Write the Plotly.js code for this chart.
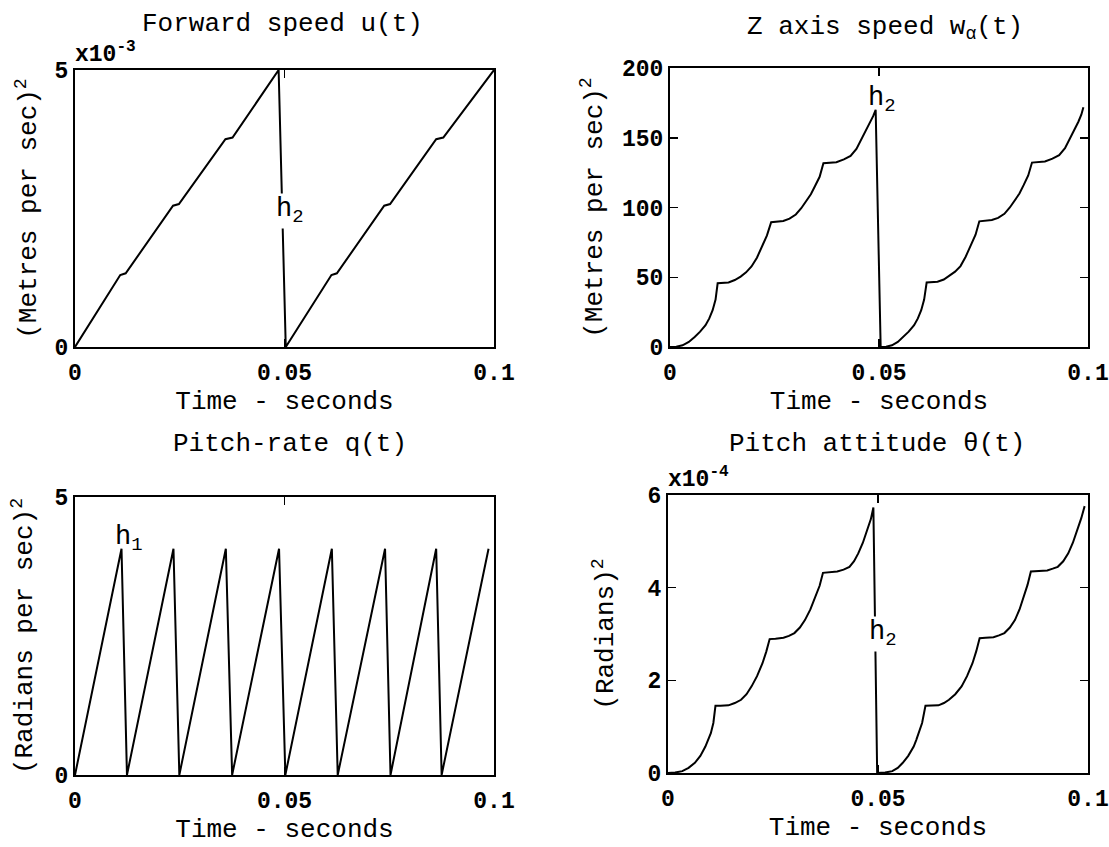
<!DOCTYPE html>
<html>
<head>
<meta charset="utf-8">
<script src="https://cdn.plot.ly/plotly-3.0.1.min.js"></script>
<style>
  html, body { margin: 0; padding: 0; background: #ffffff; }
  #chart { width: 1109px; height: 847px; }
</style>
</head>
<body>
<div id="chart"></div>
<script>
// ---- Data ----
const timeTicks = [0, 0.05, 0.1];
const timeTickText = ["0", "0.05", "0.1"];

// Forward speed u(t), units x10^-3 (Metres per sec)^2
const uTime = [0, 0.0108, 0.0121, 0.0234, 0.0248, 0.0359, 0.0376, 0.0486, 0.0503, 0.0612, 0.0625, 0.0738, 0.0752, 0.0862, 0.0879, 0.1];
const uValue = [0, 1.30, 1.33, 2.55, 2.58, 3.75, 3.78, 5.0, 0, 1.30, 1.33, 2.55, 2.58, 3.75, 3.78, 5.0];

// Z axis speed w_alpha(t), (Metres per sec)^2
const wTime = [0, 0.0015, 0.0030, 0.0045, 0.0059, 0.0072, 0.0085, 0.0094, 0.0102, 0.0109, 0.0114,
               0.0125, 0.0140, 0.0155, 0.0169, 0.0182, 0.0195, 0.0208, 0.0220, 0.0232, 0.0242,
               0.0255, 0.0271, 0.0286, 0.0301, 0.0314, 0.0326, 0.0337, 0.0347, 0.0358, 0.0367,
               0.0380, 0.0398, 0.0416, 0.0432, 0.0446, 0.0458, 0.0469, 0.0479, 0.0486, 0.0492,
               0.0504, 0.0517, 0.0531, 0.0545, 0.0558, 0.0571, 0.0584, 0.0593, 0.0601, 0.0608, 0.0614,
               0.0625, 0.0640, 0.0655, 0.0669, 0.0682, 0.0695, 0.0707, 0.0719, 0.0731, 0.0740,
               0.0754, 0.0770, 0.0785, 0.0800, 0.0813, 0.0825, 0.0836, 0.0846, 0.0857, 0.0866,
               0.0879, 0.0897, 0.0915, 0.0931, 0.0945, 0.0957, 0.0968, 0.0977, 0.0984, 0.0989];
const wValue = [0, 0.2, 1.2, 3.6, 7.2, 11, 15.6, 20.5, 26.4, 34, 45.7,
                46, 46.3, 48, 50.5, 53.5, 57.7, 64, 72.1, 80, 89.4,
                89.8, 90.3, 92, 95, 99.5, 104.6, 109.5, 115.4, 122, 131.7,
                132, 132.5, 134.5, 137, 142, 149, 155, 161, 165.5, 170,
                0, 0.2, 1.2, 3.6, 7.2, 11, 15.6, 20.5, 26.4, 34, 46.2,
                46.4, 46.8, 48.4, 51, 54, 58, 64.5, 72.5, 80.5, 90.1,
                90.4, 91, 92.6, 95.5, 100, 105, 110, 116, 123, 132.2,
                132.4, 133, 135, 137.5, 142.5, 149.5, 155.5, 161.5, 166.5, 171.9];

// Pitch-rate q(t), (Radians per sec)^2
const qTime = [0, 0.0111, 0.0124, 0.0235, 0.0249, 0.0360, 0.0375, 0.0487, 0.0502, 0.0613, 0.0627, 0.0740, 0.0753, 0.0862, 0.0875, 0.0987];
const qValue = [0, 4.07, 0, 4.07, 0, 4.07, 0, 4.07, 0, 4.07, 0, 4.07, 0, 4.07, 0, 4.07];

// Pitch attitude theta(t), units x10^-4 (Radians)^2
const thTime = [0, 0.0017, 0.0034, 0.0049, 0.0064, 0.0077, 0.0089, 0.0096, 0.0102, 0.0108, 0.0113,
                0.0125, 0.0144, 0.0159, 0.0174, 0.0187, 0.0199, 0.0212, 0.0225, 0.0234, 0.0242,
                0.0256, 0.0275, 0.0288, 0.0301, 0.0314, 0.0326, 0.0339, 0.0352, 0.0361, 0.0369,
                0.0384, 0.0403, 0.0418, 0.0432, 0.0443, 0.0453, 0.0464, 0.0475, 0.0483, 0.0489,
                0.0498, 0.0517, 0.0534, 0.0547, 0.0559, 0.0572, 0.0585, 0.0591, 0.0597, 0.0605, 0.0613,
                0.0626, 0.0644, 0.0657, 0.0669, 0.0684, 0.0699, 0.0712, 0.0725, 0.0734, 0.0742,
                0.0756, 0.0775, 0.0788, 0.0801, 0.0814, 0.0826, 0.0837, 0.0847, 0.0856, 0.0864,
                0.0882, 0.0903, 0.0916, 0.0928, 0.0941, 0.0953, 0.0964, 0.0975, 0.0984, 0.0992];
const thValue = [0, 0.01, 0.04, 0.11, 0.22, 0.37, 0.57, 0.71, 0.86, 1.08, 1.45,
                 1.45, 1.46, 1.51, 1.58, 1.70, 1.87, 2.09, 2.37, 2.62, 2.89,
                 2.90, 2.92, 2.96, 3.02, 3.14, 3.30, 3.53, 3.81, 4.04, 4.32,
                 4.33, 4.35, 4.39, 4.45, 4.57, 4.74, 4.97, 5.24, 5.48, 5.73,
                 0, 0.01, 0.04, 0.11, 0.22, 0.37, 0.57, 0.71, 0.86, 1.08, 1.45,
                 1.45, 1.46, 1.51, 1.58, 1.70, 1.87, 2.09, 2.37, 2.63, 2.91,
                 2.92, 2.93, 2.97, 3.02, 3.14, 3.30, 3.53, 3.81, 4.06, 4.35,
                 4.36, 4.37, 4.41, 4.45, 4.57, 4.74, 4.97, 5.24, 5.50, 5.76];

// Y ticks
const uTicks = [0, 5];
const wTicks = [0, 50, 100, 150, 200];
const qTicks = [0, 5];
const thTicks = [0, 2, 4, 6];

// ---- Styling ----
const MONO = "Liberation Mono, Courier New, monospace";
const titleFont = { family: MONO, size: 26, color: "#000" };
const tickFont = { family: MONO, size: 23, color: "#000", weight: "bold" };

function line(x, y, xa, ya) {
  return { x: x, y: y, xaxis: xa, yaxis: ya, type: "scatter", mode: "lines",
           line: { color: "#000", width: 2 }, hoverinfo: "skip", showlegend: false };
}

const data = [
  line(uTime, uValue, "x", "y"),
  line(wTime, wValue, "x2", "y2"),
  line(qTime, qValue, "x3", "y3"),
  line(thTime, thValue, "x4", "y4")
];

function xAxis(domain, anchor) {
  return {
    domain: domain, anchor: anchor, range: [0, 0.1],
    tickvals: timeTicks, ticktext: timeTickText,
    ticks: "inside", ticklen: 8, tickwidth: 1.5, tickcolor: "#000",
    showline: true, linecolor: "#000", linewidth: 2, mirror: "ticks",
    showgrid: false, zeroline: false, tickfont: tickFont, ticklabelstandoff: 3,
    title: { text: "Time - seconds", font: titleFont, standoff: 4 }
  };
}
function yAxis(domain, anchor, range, ticks, title, standoff) {
  return {
    domain: domain, anchor: anchor, range: range,
    tickvals: ticks, ticktext: ticks.map(String),
    ticks: "inside", ticklen: 8, tickwidth: 1.5, tickcolor: "#000",
    showline: true, linecolor: "#000", linewidth: 2, mirror: "ticks",
    showgrid: false, zeroline: false, tickfont: tickFont,
    title: { text: title, font: titleFont, standoff: standoff }
  };
}

const W = 1109, H = 847;
const px = (a, b) => [a / W, b / W];
const py = (top, bottom) => [1 - bottom / H, 1 - top / H];

const annFont = { family: MONO, size: 27, color: "#000" };

const layout = {
  width: W, height: H,
  margin: { l: 0, r: 0, t: 0, b: 0 },
  paper_bgcolor: "#fff", plot_bgcolor: "#fff",
  showlegend: false,
  xaxis: xAxis(px(75, 494), "y"),
  yaxis: yAxis(py(70, 347), "x", [0, 5], uTicks, "(Metres per sec)<sup>2</sup>", 10),
  xaxis2: xAxis(px(670, 1088), "y2"),
  yaxis2: yAxis(py(68, 347), "x2", [0, 200], wTicks, "(Metres per sec)<sup>2</sup>", 12),
  xaxis3: xAxis(px(75, 494), "y3"),
  yaxis3: yAxis(py(497, 775), "x3", [0, 5], qTicks, "(Radians per sec)<sup>2</sup>", 14),
  xaxis4: xAxis(px(668, 1088), "y4"),
  yaxis4: yAxis(py(495, 773), "x4", [0, 6], thTicks, "(Radians)<sup>2</sup>", 26),
  annotations: [
    { text: "Forward speed u(t)", xref: "paper", yref: "paper", x: 282 / W, y: 1 - 24 / H,
      xanchor: "center", yanchor: "middle", showarrow: false, font: titleFont },
    { text: "Z axis speed w<sub>α</sub>(t)", xref: "paper", yref: "paper", x: 885 / W, y: 1 - 28 / H,
      xanchor: "center", yanchor: "middle", showarrow: false, font: titleFont },
    { text: "Pitch-rate q(t)", xref: "paper", yref: "paper", x: 290 / W, y: 1 - 444 / H,
      xanchor: "center", yanchor: "middle", showarrow: false, font: titleFont },
    { text: "Pitch attitude θ(t)", xref: "paper", yref: "paper", x: 877 / W, y: 1 - 444 / H,
      xanchor: "center", yanchor: "middle", showarrow: false, font: titleFont },
    { text: "x10<sup>-3</sup>", xref: "x domain", yref: "y domain", x: 0, y: 1,
      xanchor: "left", yanchor: "bottom", showarrow: false, font: tickFont, xshift: -2, yshift: 0 },
    { text: "x10<sup>-4</sup>", xref: "x4 domain", yref: "y4 domain", x: 0, y: 1,
      xanchor: "left", yanchor: "bottom", showarrow: false, font: tickFont, xshift: -2, yshift: 0 },
    { text: "h<sub>2</sub>", xref: "x", yref: "y", x: 0.0512, y: 2.45,
      xanchor: "center", yanchor: "middle", showarrow: false, font: annFont, bgcolor: "#fff", borderpad: 0 },
    { text: "h<sub>2</sub>", xref: "x2", yref: "y2", x: 0.0508, y: 177,
      xanchor: "center", yanchor: "middle", showarrow: false, font: annFont },
    { text: "h<sub>1</sub>", xref: "x3", yref: "y3", x: 0.0129, y: 4.25,
      xanchor: "center", yanchor: "middle", showarrow: false, font: annFont },
    { text: "h<sub>2</sub>", xref: "x4", yref: "y4", x: 0.0512, y: 3.0,
      xanchor: "center", yanchor: "middle", showarrow: false, font: annFont, bgcolor: "#fff", borderpad: 0 }
  ]
};

Plotly.newPlot("chart", data, layout, { displayModeBar: false, staticPlot: true });
</script>
</body>
</html>
